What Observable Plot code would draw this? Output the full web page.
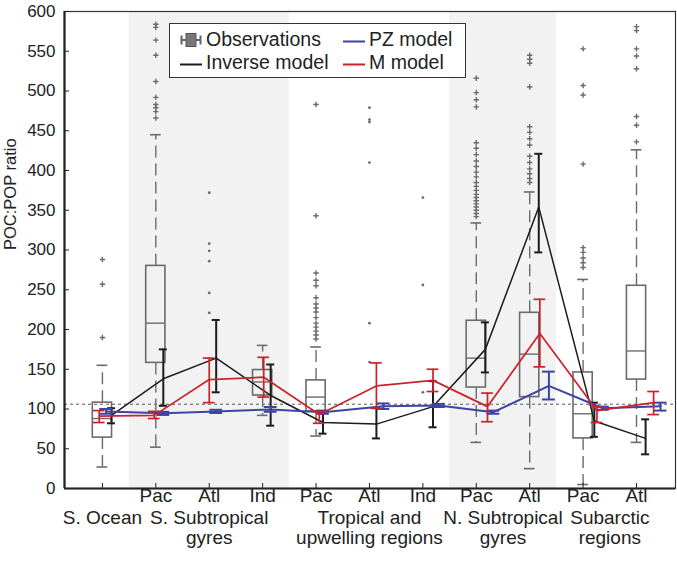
<!DOCTYPE html>
<html><head><meta charset="utf-8">
<script src="https://cdn.jsdelivr.net/npm/d3@7"></script>
<script src="https://cdn.jsdelivr.net/npm/@observablehq/plot@0.6"></script>
<style>
body{margin:0;background:#fff;font-family:"Liberation Sans",Arial,sans-serif;}
#wrap{position:relative;width:677px;height:564px;}
#legend{position:absolute;left:169px;top:23px;width:297px;height:55px;border:1px solid #333;background:#fff;box-sizing:border-box;font-size:19.5px;color:#222;}
.it{position:absolute;transform:translateY(-50%);line-height:1;white-space:nowrap;}
.ic{position:absolute;transform:translateY(-50%);line-height:0;}
</style></head><body><div id="wrap"></div>
<script>
// ---- categories & labels ----
const categories = ["S. Ocean","Pac","Atl","Ind","Pac","Atl","Ind","Pac","Atl","Pac","Atl"];
const tickLabels = ["","Pac","Atl","Ind","Pac","Atl","Ind","Pac","Atl","Pac","Atl"];
const groupLine1 = ["S. Ocean","S. Subtropical","Tropical and","N. Subtropical","Subarctic"];
const groupLine2 = ["","gyres","upwelling regions","gyres","regions"];
const groupCenter = [1, 3, 6, 8.5, 10.5];
const shadeBands = [[1.5, 4.5], [7.5, 9.5]];
const yTicks = [0,50,100,150,200,250,300,350,400,450,500,550,600];
const redfield = 106;

// ---- observations (box statistics) ----
const boxLo  = [27, 52, null, 92, 66, null, null, 58, 25, 5, 58];
const boxQ1  = [64, 158, null, 117, 97, null, null, 127, 115, 63, 137];
const boxMed = [88, 208, null, 134, 115, null, null, 164, 169, 94, 173];
const boxQ3  = [108, 280, null, 149, 136, null, null, 211, 221, 146, 255];
const boxHi  = [155, 445, null, 180, 178, null, null, 334, 373, 263, 426];
const outliers = [
  [190, 257, 288],
  [466, 474, 479, 483, 492, 512, 545, 564, 580, 584],
  [221, 246, 286, 299, 308, 372],
  [],
  [188, 193, 198, 203, 208, 215, 222, 227, 232, 240, 255, 262, 271, 343, 483],
  [159, 208, 410, 461, 464, 479],
  [121, 256, 366],
  [342, 346, 350, 354, 358, 362, 366, 370, 375, 380, 385, 392, 398, 405, 412, 420, 428, 435, 480, 489, 498, 516],
  [385, 390, 396, 402, 410, 418, 432, 440, 448, 455, 505, 535, 540, 545],
  [278, 284, 290, 297, 303, 408, 495, 507, 553],
  [436, 457, 468, 528, 544, 553, 576, 581]
];

// ---- Inverse model (black) ----
const invVal = [92, 138, 164, 117, 83, 81, 103, 175, 354, 85, 63];
const invLo  = [82, 104, 121, 79, 69, 63, 77, 146, 297, 65, 43];
const invHi  = [101, 175, 212, 156, 96, 101, 135, 209, 421, 108, 87];
const invOff = [0.17, 0.14, 0.13, 0.15, 0.13, 0.13, 0.19, 0.17, 0.17, 0.21, 0.17];
// ---- M model (red) ----
const mVal = [91, 92, 137, 140, 93, 129, 136, 103, 195, 98, 108];
const mLo  = [83, 88, 108, 115, 82, 101, 122, 84, 153, 83, 93];
const mHi  = [98, 97, 164, 165, 97, 158, 150, 120, 238, 103, 122];
const mOff = [-0.06, -0.03, 0, 0.02, 0.06, 0.13, 0.19, 0.21, 0.19, 0.26, 0.32];
// ---- PZ model (blue) ----
const pzVal = [97, 94.5, 97, 99.5, 96, 103.5, 104.5, 96, 129, 101, 103.5];
const pzLo  = [94, 92.5, 95, 96.5, 94, 100, 102.5, 94, 112, 99, 98];
const pzHi  = [100, 96.5, 99, 102.5, 98, 107, 106.5, 98, 147, 103, 108];
const pzOff = [0.07, 0.14, 0.13, 0.15, 0.13, 0.26, 0.30, 0.32, 0.36, 0.37, 0.45];

const GRAY = "#6b6b6b", BLACK = "#1c1c1c", RED = "#cc2229", BLUE = "#3d44a5";
const idx = categories.map((c, i) => i + 1);

const boxes = idx.map((x, i) => ({x, lo: boxLo[i], q1: boxQ1[i], med: boxMed[i], q3: boxQ3[i], hi: boxHi[i]})).filter(d => d.q1 != null);
const outPts = outliers.flatMap((arr, i) => arr.map(v => ({x: i + 1, y: v, box: boxQ1[i] != null})));

function series(val, lo, hi, off) {
  return val.map((v, i) => ({x: i + 1 + off[i], v, lo: lo[i], hi: hi[i]}));
}
const inv = series(invVal, invLo, invHi, invOff);
const mm = series(mVal, mLo, mHi, mOff);
const pz = series(pzVal, pzLo, pzHi, pzOff);

function modelMarks(data, color, capHalf, lw, capW) {
  return [
    Plot.line(data, {x: "x", y: "v", stroke: color, strokeWidth: lw}),
    Plot.ruleX(data, {x: "x", y1: "lo", y2: "hi", stroke: color, strokeWidth: capW}),
    Plot.ruleY(data, {x1: d => d.x - capHalf, x2: d => d.x + capHalf, y: "lo", stroke: color, strokeWidth: capW}),
    Plot.ruleY(data, {x1: d => d.x - capHalf, x2: d => d.x + capHalf, y: "hi", stroke: color, strokeWidth: capW})
  ];
}

const xDomain = [0.29, 11.73];
const frameH = 564 - 11 - 76, frameW = 677 - 64 - 2;
const FS = 19;

const chart = Plot.plot({
  width: 677, height: 564,
  marginLeft: 64, marginRight: 2, marginTop: 11, marginBottom: 76,
  x: {domain: xDomain, axis: null},
  y: {domain: [0, 600], axis: null},
  style: {fontFamily: "'Liberation Sans', Arial, sans-serif", background: "white", color: "#222"},
  marks: [
    Plot.rect(shadeBands, {x1: d => d[0], x2: d => d[1], fill: "#f2f2f2"}),
    Plot.ruleY([redfield], {stroke: "#444", strokeWidth: 0.9, strokeDasharray: "3,3"}),
    // boxes
    Plot.ruleX(boxes, {x: "x", y1: "q3", y2: "hi", stroke: GRAY, strokeWidth: 1.4, strokeDasharray: "12,6"}),
    Plot.ruleX(boxes, {x: "x", y1: "q1", y2: "lo", stroke: GRAY, strokeWidth: 1.4, strokeDasharray: "12,6"}),
    Plot.ruleY(boxes, {x1: d => d.x - 0.1, x2: d => d.x + 0.1, y: "hi", stroke: GRAY, strokeWidth: 1.6}),
    Plot.ruleY(boxes, {x1: d => d.x - 0.1, x2: d => d.x + 0.1, y: "lo", stroke: GRAY, strokeWidth: 1.6}),
    Plot.rect(boxes, {x1: d => d.x - 0.18, x2: d => d.x + 0.18, y1: "q1", y2: "q3", fill: "none", stroke: GRAY, strokeWidth: 1.6}),
    Plot.ruleY(boxes, {x1: d => d.x - 0.18, x2: d => d.x + 0.18, y: "med", stroke: GRAY, strokeWidth: 1.4}),
    Plot.dot(outPts.filter(d => d.box), {x: "x", y: "y", symbol: "plus", r: 1.9, fill: "none", stroke: GRAY, strokeWidth: 1.4}),
    Plot.dot(outPts.filter(d => !d.box), {x: "x", y: "y", r: 1.4, fill: GRAY, stroke: "none"}),
    // models
    ...modelMarks(inv, BLACK, 0.075, 1.5, 2),
    ...modelMarks(pz, BLUE, 0.12, 2, 2),
    ...modelMarks(mm, RED, 0.11, 1.7, 1.7),
    // frame & ticks
    Plot.frame({stroke: "#333", strokeWidth: 1.2}),
    Plot.ruleX([xDomain[0]], {stroke: "#222", strokeWidth: 2.2}),
    Plot.ruleY([0], {stroke: "#222", strokeWidth: 2.2}),
    Plot.ruleY(yTicks, {y: d => d, insetRight: frameW - 5, stroke: "#222", strokeWidth: 1}),
    Plot.ruleX(idx, {x: d => d, insetTop: frameH - 5, stroke: "#222", strokeWidth: 1}),
    // labels
    Plot.text(yTicks, {y: d => d, text: d => String(d), frameAnchor: "left", textAnchor: "end", dx: -9, fontSize: 17, fill: "#222"}),
    Plot.text(idx, {x: d => d, text: d => tickLabels[d - 1], frameAnchor: "bottom", dy: 13, fontSize: FS, fill: "#222"}),
    Plot.text(groupLine1, {x: (d, i) => groupCenter[i], text: d => d, frameAnchor: "bottom", dy: 35, fontSize: FS, fill: "#222"}),
    Plot.text(groupLine2, {x: (d, i) => groupCenter[i], text: d => d, frameAnchor: "bottom", dy: 55, fontSize: FS, fill: "#222"}),
    Plot.text(["POC:POP ratio"], {text: d => d, frameAnchor: "left", rotate: -90, dx: -54, fontSize: 16.5, fill: "#222"})
  ]
});

const wrap = document.getElementById("wrap");
wrap.appendChild(chart);

// legend
const legend = document.createElement("div");
legend.id = "legend";
const lineIcon = (c) => `<svg width="22" height="4"><line x1="0" y1="2" x2="22" y2="2" stroke="${c}" stroke-width="2.2"/></svg>`;
const boxIcon = `<svg width="22" height="15"><line x1="1.5" y1="3" x2="1.5" y2="12" stroke="#666" stroke-width="2"/><line x1="1.5" y1="7.5" x2="6" y2="7.5" stroke="#666" stroke-width="2"/><rect x="6" y="1" width="10" height="13" fill="#777" stroke="#555" stroke-width="1"/><line x1="16" y1="7.5" x2="20.5" y2="7.5" stroke="#666" stroke-width="2"/><line x1="20.5" y1="3" x2="20.5" y2="12" stroke="#666" stroke-width="2"/></svg>`;
const items = [
  {icon: boxIcon, text: "Observations", x: 10, y: 15.5},
  {icon: lineIcon(BLACK), text: "Inverse model", x: 10, y: 39},
  {icon: lineIcon(BLUE), text: "PZ model", x: 173, y: 15.5},
  {icon: lineIcon(RED), text: "M model", x: 173, y: 39}
];
legend.innerHTML = items.map(d =>
  `<div class="ic" style="left:${d.x}px;top:${d.y}px">${d.icon}</div><div class="it" style="left:${d.x + 26}px;top:${d.y}px">${d.text}</div>`
).join("");
wrap.appendChild(legend);
</script>
</body></html>
